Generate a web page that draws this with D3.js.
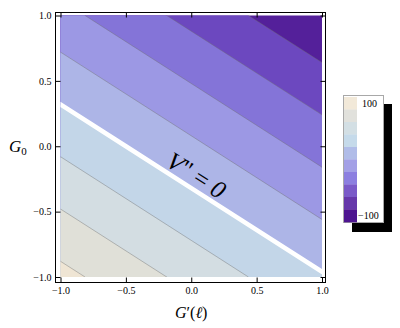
<!DOCTYPE html>
<html>
<head>
<meta charset="utf-8">
<script src="https://cdn.jsdelivr.net/npm/d3@7"></script>
<style>
  body { margin: 0; background: #fff; }
  svg text { font-family: "Liberation Serif", "Times New Roman", serif; }
</style>
</head>
<body>
<svg id="chart" width="400" height="328"></svg>
<script>
const gPrimeSamples = [-1, 0, 1];
const g0Samples = [1, 0, -1];
const vppRows = [
    [-34, -66, -98],
    [16, -16, -48],
    [66, 34, 2]
];
const levels = [-100, -80, -60, -40, -20, 0, 20, 40, 60, 80, 100];
const majorTicks = [-1, -0.5, 0, 0.5, 1];
const minorTicks = d3.range(-10, 11).map(d => d / 10);
const legendLabels = ['100', '\u2212100'];

// band colours, lowest band first
const plotColors = ['#54209a', '#6c48bf', '#8474d8', '#9c98e4', '#adb5e7',
                    '#c3d6e8', '#d3dde2', '#e0e0d8', '#efe5d4', '#f2e9d9'];
// legend swatches, top (100) to bottom (-100)
const legendColors = ['#f2e9d9', '#e1e1dc', '#d3dfe4', '#c5daea', '#b0bce8',
                      '#a3a0e6', '#8c7fe0', '#7a5ac8', '#6638aa', '#4e1590'];

const svg = d3.select('#chart');

const x = d3.scaleLinear().domain([-1, 1]).range([60.5, 322]);
const y = d3.scaleLinear().domain([1, -1]).range([15.5, 277]);

// grid index space -> pixels (d3.contours puts sample i at i + 0.5)
const nx = gPrimeSamples.length, ny = g0Samples.length;
const gx = d3.scaleLinear().domain([0.5, nx - 0.5])
    .range([x(gPrimeSamples[0]), x(gPrimeSamples[nx - 1])]);
const gy = d3.scaleLinear().domain([0.5, ny - 0.5])
    .range([y(g0Samples[0]), y(g0Samples[ny - 1])]);
const path = d3.geoPath(d3.geoTransform({
    point(px, py) { this.stream.point(gx(px), gy(py)); }
}));

const contours = d3.contours()
    .size([nx, ny])
    .thresholds(levels)(vppRows.flat());

svg.append('defs').append('clipPath').attr('id', 'plot-clip')
    .append('rect')
    .attr('x', x(-1)).attr('y', y(1))
    .attr('width', x(1) - x(-1)).attr('height', y(-1) - y(1));

const plot = svg.append('g').attr('clip-path', 'url(#plot-clip)');

// Filled bands
plot.selectAll('path.band')
    .data(contours)
    .enter().append('path')
    .attr('class', 'band')
    .attr('d', path)
    .attr('fill', (d, i) => plotColors[Math.min(i, plotColors.length - 1)])
    .attr('stroke', 'none');

// Thin contour lines
plot.selectAll('path.iso')
    .data(contours.filter(c => c.value !== 0 && c.value !== levels[0]))
    .enter().append('path')
    .attr('class', 'iso')
    .attr('d', path)
    .attr('fill', 'none')
    .attr('stroke', '#6e6e6e')
    .attr('stroke-opacity', 0.6)
    .attr('stroke-width', 0.7);

// The V'' = 0 line
plot.selectAll('path.zero')
    .data(contours.filter(c => c.value === 0))
    .enter().append('path')
    .attr('class', 'zero')
    .attr('d', path)
    .attr('fill', 'none')
    .attr('stroke', '#fff')
    .attr('stroke-width', 4.5);

// Label along the zero line
const angle = Math.atan2(y(-0.633) - y(0), x(1) - x(0)) * 180 / Math.PI;
const lbl = svg.append('text')
    .attr('transform', `translate(${x(0.04)},${y(-0.22)}) rotate(${angle})`)
    .attr('text-anchor', 'middle')
    .attr('dy', '0.35em')
    .attr('font-size', 25)
    .attr('fill', '#000');
lbl.append('tspan').attr('font-style', 'italic').text('V');
lbl.append('tspan').text('" = ');
lbl.append('tspan').attr('font-style', 'italic').text('0');

// Frame
svg.append('rect')
    .attr('x', 55.5).attr('y', 12.5)
    .attr('width', 270).attr('height', 270)
    .attr('fill', 'none')
    .attr('stroke', '#000')
    .attr('stroke-width', 1);

function frameAxis(axisFn, scale, tf, labelled) {
    const g = svg.append('g').attr('transform', tf);
    g.call(axisFn(scale).tickValues(minorTicks).tickSize(-2.5).tickFormat(''));
    g.call(axisFn(scale).tickValues(majorTicks).tickSizeInner(-5).tickSizeOuter(0)
        .tickPadding(labelled ? 4 : 0)
        .tickFormat(labelled ? d3.format('.1f') : ''));
    g.selectAll('.domain').remove();
    g.selectAll('line').attr('stroke', '#000');
    g.attr('font-family', null).attr('font-size', 10);
    g.selectAll('text').attr('fill', '#000');
    return g;
}

frameAxis(d3.axisBottom, x, 'translate(0,282.5)', true);
frameAxis(d3.axisTop, x, 'translate(0,12.5)', false);
frameAxis(d3.axisLeft, y, 'translate(55.5,0)', true);
frameAxis(d3.axisRight, y, 'translate(325.5,0)', false);

// Axis titles
const xt = svg.append('text')
    .attr('x', x(0)).attr('y', 318)
    .attr('text-anchor', 'middle')
    .attr('font-size', 16);
xt.append('tspan').attr('font-style', 'italic').text('G');
xt.append('tspan').text('\u2032(');
xt.append('tspan').attr('font-style', 'italic').text('\u2113');
xt.append('tspan').text(')');

const yt = svg.append('text')
    .attr('x', 9).attr('y', 152)
    .attr('font-size', 17);
yt.append('tspan').attr('font-style', 'italic').text('G');
yt.append('tspan').attr('font-size', 11).attr('dy', 3).text('0');

// Legend
const legend = svg.append('g');
legend.append('rect')
    .attr('x', 352).attr('y', 104)
    .attr('width', 40).attr('height', 128)
    .attr('fill', '#000');
legend.append('rect')
    .attr('x', 343.5).attr('y', 95.5)
    .attr('width', 40).attr('height', 127)
    .attr('fill', '#fff')
    .attr('stroke', '#a8a8a8')
    .attr('stroke-width', 1);

const band = d3.scaleBand().domain(d3.range(legendColors.length)).range([97, 222]);
legend.selectAll('rect.swatch')
    .data(legendColors)
    .enter().append('rect')
    .attr('class', 'swatch')
    .attr('x', 344).attr('y', (d, i) => band(i))
    .attr('width', 13).attr('height', band.bandwidth() + 0.3)
    .attr('fill', d => d);

legend.append('text')
    .attr('x', 362).attr('y', band(0) + band.bandwidth() / 2)
    .attr('dy', '0.35em').attr('font-size', 10)
    .text(legendLabels[0]);
legend.append('text')
    .attr('x', 358).attr('y', band(legendColors.length - 1) + band.bandwidth() / 2)
    .attr('dy', '0.35em').attr('font-size', 10)
    .text(legendLabels[1]);
</script>
</body>
</html>
